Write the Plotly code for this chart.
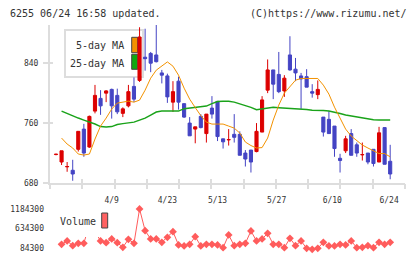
import plotly.graph_objects as go

# ---------------- data ----------------
opens  = [718, 708, 701.6, 697, 725, 752, 728, 776, 793, 800,
          805, 797, 773, 783, 809, 817, 848, 853, 851, 827,
          823, 788, 816, 786, 760, 752, 769, 746, 780, 789,
          739, 737.6, 745, 745, 720, 724, 722, 748, 804, 831,
          825, 803, 851, 832, 823, 822, 802, 798, 768, 765,
          756, 713, 723, 746, 731, 717.6, 720, 725, 708, 754, 709]
highs  = [719, 723, 708, 711, 749, 759, 770, 811, 804, 804,
          806, 806, 781, 811, 821, 888, 886, 855, 891, 831,
          826, 816, 822, 786, 768, 755, 772, 772, 796, 789,
          739, 752, 772, 749, 724, 724, 760, 796, 845, 831,
          855, 824, 876, 847, 827, 832, 812, 817, 768, 776,
          756, 719, 743, 752, 734, 734, 720, 725, 755, 754, 731]
lows   = [717, 704, 695, 683, 722, 715, 727, 773, 771, 788,
          766, 772, 768, 781, 788, 815, 830, 828, 841, 813,
          787, 775, 778, 767, 743, 733, 753, 734, 766, 736,
          726, 730, 734, 717, 702, 694, 721, 748, 800, 792,
          800, 795, 830, 816, 779, 808, 794, 792, 742, 746,
          715, 694, 720, 717, 715, 710, 705, 702, 708, 705, 685]
closes = [718.4, 723, 702, 692, 749, 720, 769, 797, 783, 803,
          783, 775, 779, 802, 792, 875, 846, 840, 842, 824,
          795, 802, 788, 768, 743, 755, 754, 772, 772, 742,
          735, 738, 741, 717, 712, 708, 749, 791, 831, 812,
          802, 820, 831, 827, 819, 808, 800, 805, 748, 746,
          726, 710, 739, 717, 720, 718, 708, 706, 747, 705, 692]

ma5 = [None, 740, 732, 726.7, 718.7, 717.3, 718.7, 738.7, 756, 766.7,
       778.7, 786.7, 788, 789.3, 788, 790.7, 804, 820, 830.7, 836,
       841.7, 836, 824, 806.7, 792, 780.7, 770, 761.3, 758.7, 758.7,
       758.7, 756, 753.3, 746.7, 734.7, 730, 726.7, 727.3, 740, 764,
       784, 800, 808, 817.3, 819.6, 819.6, 819.6, 819.6, 810.7, 798.7,
       781.3, 766.7, 752, 742.7, 737.3, 730.7, 726.7, 722.7, 719.3, 719.3, 715]
ma25 = [None, 776, 772.7, 770, 766.7, 764, 761.7, 758.7, 755.3, 754.7,
        755.3, 758, 759.3, 760, 761.3, 764, 766.7, 770.7, 774.7, 776,
        776, 776, 776, 779.3, 780, 780.7, 781.3, 782.7, 786, 788.7,
        789.3, 789.3, 788, 786, 783.3, 781, 778, 779.3, 780.7, 781,
        780.4, 780, 780, 779.3, 778.7, 778, 777.3, 777.3, 776.7, 776,
        774.7, 772.7, 770.7, 769.3, 768, 766.7, 765.3, 764.4, 764, 764, 764]
volume = [None, 196000, 289400, 158900, 224100, 224100, 760000, 560000, 289400, 242800,
          345300, 242800, 112300, 336000, 224100, 1184300, 578400, 345300, 345300, 252100,
          391900, 550400, 177500, 149600, 196200, 410600, 149600, 196200, 196200, 177500,
          102900, 457200, 158900, 196200, 224100, 569000, 289400, 345300, 503800, 196200,
          196200, 102900, 364000, 158900, 289400, 84300, 56300, 84300, 252100, 149600,
          149600, 196200, 177500, 289400, 102900, 112300, 158900, 102900, 252100, 196200, 252100]

idx = list(range(len(closes)))
tick_labels = ["4/9", "4/23", "5/13", "5/27", "6/10", "6/24"]
tick_pos = [10, 20, 29, 39.6, 49.6, 59.8]
price_ticks = [680, 760, 840]
vol_ticks = [84300, 634300, 1184300]

# ---------------- layout helpers ----------------
W, H = 420, 259
ML, MR = 50, 15
PW = W - ML - MR


def px(x):
    return (x - ML) / PW


def py(y):
    return 1 - y / H


RED = "#dc0000"
BLUE = "#4444c4"
ORANGE = "#f39200"
GREEN = "#1aa31a"
VOLC = "#ff5c5c"
AX = "#dddddd"
TXT = "#333333"
MONO = "DejaVu Sans Mono"

xr = [-1.077, 62.66]
yr = [680, 891]
vr = [-103072, 1295228]

fig = go.Figure()
fig.add_trace(go.Candlestick(
    x=idx, open=opens, high=highs, low=lows, close=closes,
    increasing=dict(line=dict(color=RED, width=1), fillcolor=RED),
    decreasing=dict(line=dict(color=BLUE, width=1), fillcolor=BLUE),
    whiskerwidth=0, xaxis="x", yaxis="y", hoverinfo="skip"))
fig.add_trace(go.Scatter(x=idx, y=ma25, mode="lines",
                         line=dict(color=GREEN, width=1.5), xaxis="x", yaxis="y"))
fig.add_trace(go.Scatter(x=idx, y=ma5, mode="lines",
                         line=dict(color=ORANGE, width=1), xaxis="x", yaxis="y"))
fig.add_trace(go.Scatter(x=idx, y=volume, mode="lines+markers",
                         line=dict(color=VOLC, width=1),
                         marker=dict(symbol="diamond", size=6, color=VOLC),
                         connectgaps=False, xaxis="x", yaxis="y2", cliponaxis=False))

nt = 11
reg_ticks = [xr[0] + (xr[1] - xr[0]) * k / nt for k in range(nt + 1)]

fig.update_layout(
    width=W, height=H, margin=dict(l=ML, r=MR, t=0, b=0),
    paper_bgcolor="white", plot_bgcolor="white", showlegend=False,
    template="none", boxgap=0.2,
    xaxis=dict(domain=[0, 1], anchor="y", range=xr, showline=True, linecolor=AX,
               linewidth=2, ticks="", tickvals=tick_pos, ticktext=tick_labels,
               tickfont=dict(family=MONO, size=8, color=TXT), showgrid=False,
               zeroline=False, rangeslider=dict(visible=False), ticklabelstandoff=8),
    xaxis3=dict(overlaying="x", anchor="y", range=xr, showline=False, ticks="outside",
                ticklen=5, tickwidth=2, tickcolor=AX, tickvals=reg_ticks,
                showticklabels=False, showgrid=False, zeroline=False),
    xaxis4=dict(overlaying="x", anchor="y", range=xr, showline=False, ticks="inside",
                ticklen=4, tickwidth=2, tickcolor=AX, tickvals=reg_ticks,
                showticklabels=False, showgrid=False, zeroline=False),
    yaxis=dict(domain=[py(183), py(25)], anchor="x", range=yr, showline=True,
               linecolor=AX, linewidth=2, ticks="outside", ticklen=5, tickwidth=2,
               tickcolor=AX, tickvals=price_ticks,
               tickfont=dict(family=MONO, size=8, color=TXT), showgrid=False,
               zeroline=False, ticklabelstandoff=3),
    yaxis3=dict(overlaying="y", anchor="x", range=yr, showline=False, ticks="inside",
                ticklen=3, tickwidth=2, tickcolor=AX, tickvals=price_ticks,
                showticklabels=False, showgrid=False, zeroline=False),
    yaxis2=dict(domain=[py(255), py(205)], anchor="x", range=vr, showline=False,
                ticks="", tickvals=vol_ticks, tickformat="d",
                tickfont=dict(family=MONO, size=8, color=TXT), showgrid=False,
                zeroline=False, ticklabelstandoff=5),
)

# dummy invisible traces so the overlay tick axes are drawn
fig.add_trace(go.Scatter(x=[None], y=[None], xaxis="x3", yaxis="y", showlegend=False))
fig.add_trace(go.Scatter(x=[None], y=[None], xaxis="x4", yaxis="y", showlegend=False))
fig.add_trace(go.Scatter(x=[None], y=[None], xaxis="x", yaxis="y3", showlegend=False))

shapes = [
    dict(type="rect", xref="paper", yref="paper", x0=px(65), x1=px(143), y0=py(77), y1=py(30),
         fillcolor="white", line=dict(color=AX, width=2), layer="below"),
    dict(type="rect", xref="paper", yref="paper", x0=px(131.7), x1=px(137.7), y0=py(52.7), y1=py(37.3),
         fillcolor=ORANGE, line=dict(color="#444444", width=1), layer="below"),
    dict(type="rect", xref="paper", yref="paper", x0=px(131.7), x1=px(137.7), y0=py(69.3), y1=py(54.3),
         fillcolor="#0fa80f", line=dict(color="#444444", width=1), layer="below"),
    dict(type="rect", xref="paper", yref="paper", x0=px(55), x1=px(110), y0=py(237), y1=py(210),
         fillcolor="white", line=dict(width=0), layer="above"),
    dict(type="rect", xref="paper", yref="paper", x0=px(101.7), x1=px(107.7), y0=py(228), y1=py(213),
         fillcolor="#ff6262", line=dict(color="#444444", width=1), layer="above"),
]
fig.update_layout(shapes=shapes)

f10 = dict(family=MONO, size=10, color=TXT)
ann = [
    dict(text="6255 06/24 16:58 updated.", x=px(8), y=py(13), xanchor="left"),
    dict(text="(C)https://www.rizumu.net/", x=px(409), y=py(13), xanchor="right"),
    dict(text="5-day MA", x=px(126), y=py(45.7), xanchor="right"),
    dict(text="25-day MA", x=px(126), y=py(63.3), xanchor="right"),
    dict(text="Volume", x=px(58), y=py(221.7), xanchor="left"),
]
fig.update_layout(annotations=[dict(a, xref="paper", yref="paper", yanchor="middle",
                                    showarrow=False, font=f10) for a in ann])

fig.write_html("out.html")
